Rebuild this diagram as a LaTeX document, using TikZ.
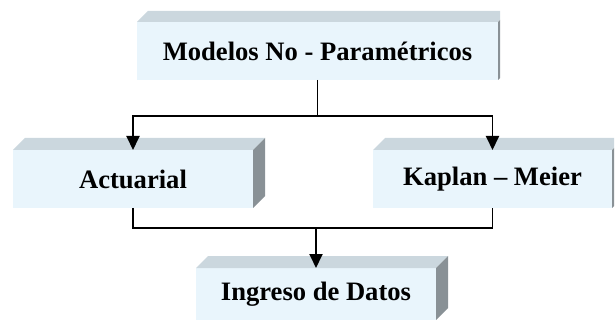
\documentclass[tikz,border=0pt]{standalone}
\usepackage{fontspec}
\setmainfont{Liberation Serif}
\usepackage{tikz}
\usetikzlibrary{arrows.meta}
\definecolor{frontblue}{RGB}{233, 245, 252}
\definecolor{topgrey}{RGB}{203, 215, 222}
\definecolor{sidegrey}{RGB}{137, 145, 150}

% top and side faces of a box node: #1 name, #2 depth, #3 visible side width
\newcommand{\boxfaces}[3]{%
  \fill[topgrey] (#1.north west) -- ([shift={(#2,-#2)}]#1.north west)
    -- ([shift={(#3,-#2)}]#1.north east) -- ([shift={(#3,-#3)}]#1.north east)
    -- (#1.north east) -- cycle;
  \fill[sidegrey] (#1.north east) -- ([shift={(#3,-#3)}]#1.north east)
    -- ([shift={(#3,-#3)}]#1.south east) -- (#1.south east) -- cycle;
}

\begin{document}
\begin{tikzpicture}[x=1pt, y=-1pt,
    box/.style={rectangle, fill=frontblue, inner sep=0pt, outer sep=0pt,
      minimum width=240pt, minimum height=58pt,
      font=\bfseries\fontsize{26.6}{30}\selectfont},
    link/.style={line width=1.9pt},
    arrow/.style={line width=1.9pt, -{Triangle[length=14pt,width=13pt]}}]
  \useasboundingbox (0,0) rectangle (615,320);

  % Boxes
  \node[box, minimum width=361pt] (top) at (317.5,51) {Modelos No - Paramétricos};
  \node[box] (act) at (133,179) {Actuarial};
  \node[box, minimum width=239pt] (kap) at (492.5,179) {Kaplan -- Meier};
  \node[box, minimum height=52pt] (dat) at (316,294) {Ingreso de Datos};

  \boxfaces{top}{11}{2}
  \boxfaces{act}{12}{12}
  \boxfaces{kap}{12}{2}
  \boxfaces{dat}{12}{12}

  % Connectors
  \draw[link] (top.south) -- ++(0,36) coordinate (split);
  \draw[arrow] (split) -| (act.north);
  \draw[arrow] (split) -| (kap.north);
  \draw[link] (act.south) -- ++(0,20) coordinate (join) -- (join -| kap.south) -- (kap.south);
  \draw[arrow] (join -| dat.north) -- (dat.north);
\end{tikzpicture}
\end{document}
